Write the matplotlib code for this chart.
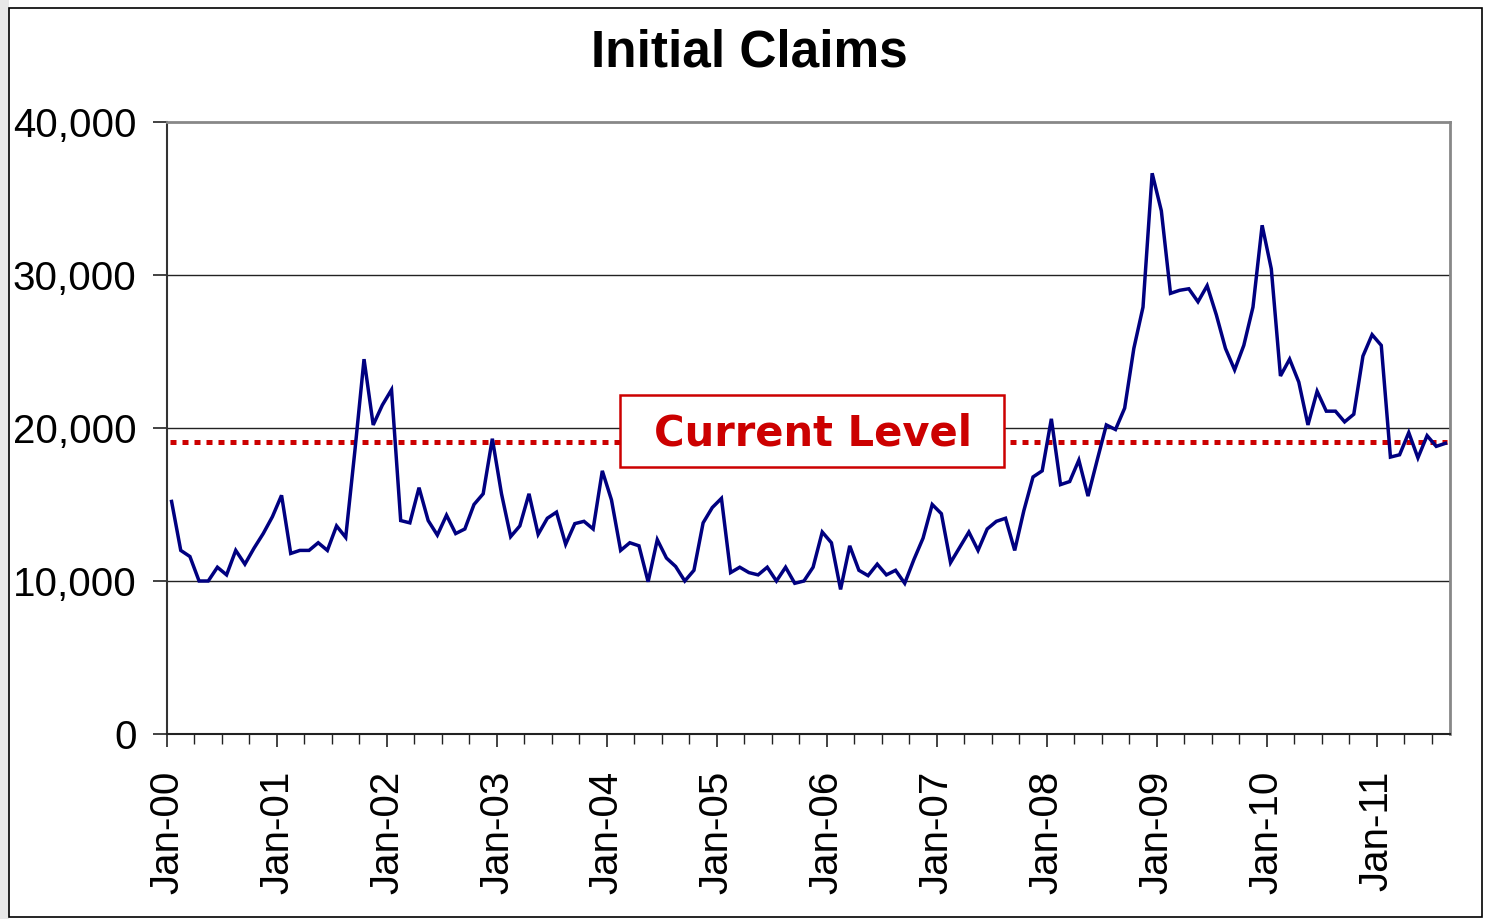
import matplotlib
matplotlib.use("Agg")
import matplotlib.pyplot as plt
from matplotlib.patches import Rectangle
from matplotlib.ticker import FuncFormatter, MultipleLocator

# Monthly initial claims, Jan-2000 .. Aug-2011 (thousands)
claims_k = [
    15.2, 12.0, 11.6, 10.0, 10.0, 10.9, 10.4, 12.0, 11.1, 12.15, 13.1, 14.2,   # 2000
    15.6, 11.8, 12.0, 12.0, 12.5, 12.0, 13.6, 12.85, 18.5, 24.5, 20.2, 21.5,   # 2001
    22.5, 13.95, 13.8, 16.1, 13.95, 13.0, 14.3, 13.1, 13.4, 15.0, 15.7, 19.3,  # 2002
    15.7, 12.9, 13.6, 15.7, 13.05, 14.1, 14.5, 12.4, 13.75, 13.9, 13.4, 17.2,  # 2003
    15.3, 12.0, 12.5, 12.3, 9.95, 12.7, 11.5, 10.95, 10.0, 10.7, 13.8, 14.8,   # 2004
    15.4, 10.55, 10.9, 10.55, 10.4, 10.9, 10.0, 10.9, 9.85, 10.0, 10.9, 13.2,  # 2005
    12.5, 9.45, 12.3, 10.7, 10.35, 11.1, 10.4, 10.7, 9.85, 11.4, 12.8, 15.0,   # 2006
    14.4, 11.2, 12.2, 13.2, 12.0, 13.4, 13.9, 14.1, 12.0, 14.6, 16.8, 17.2,    # 2007
    20.6, 16.3, 16.5, 17.9, 15.55, 17.9, 20.2, 19.9, 21.3, 25.2, 27.9, 36.65,  # 2008
    34.2, 28.8, 29.0, 29.1, 28.25, 29.3, 27.4, 25.2, 23.8, 25.4, 27.9, 33.25,  # 2009
    30.4, 23.4, 24.5, 23.0, 20.2, 22.4, 21.1, 21.1, 20.4, 20.9, 24.7, 26.1,    # 2010
    25.4, 18.1, 18.25, 19.7, 18.05, 19.5, 18.8, 19.0,                          # 2011
]
claims = [v * 1000 for v in claims_k]
current_level = 19100
year_labels = ["Jan-00", "Jan-01", "Jan-02", "Jan-03", "Jan-04", "Jan-05",
               "Jan-06", "Jan-07", "Jan-08", "Jan-09", "Jan-10", "Jan-11"]
title = "Initial Claims"
annotation = "Current Level"

n_months = len(claims)
x = [i + 0.5 for i in range(n_months)]

W, H = 1485, 919
fig = plt.figure(figsize=(W / 100, H / 100), dpi=100)
fig.patch.set_facecolor("white")

# outer light strip and chart frame
fig.add_artist(Rectangle((0, 0), 9 / W, 1, transform=fig.transFigure,
                         facecolor="#e8e8e8", edgecolor="none", zorder=0))
fig.add_artist(Rectangle((9 / W, 2 / H), (1482 - 9) / W, (917 - 8) / H,
                         transform=fig.transFigure, facecolor="none",
                         edgecolor="black", lw=1.2, zorder=5))

ax = fig.add_axes([167 / W, 1 - 734 / H, (1450 - 167) / W, (734 - 122) / H])
ax.set_facecolor("white")

ax.set_xlim(0, n_months)
ax.set_ylim(0, 40000)

for gy in (10000, 20000, 30000):
    ax.axhline(gy, color="#222222", lw=1.0, zorder=1)

ax.plot([0.3, n_months - 0.3], [current_level, current_level], color="#cc0000",
        lw=3.6, dashes=(1.2, 1.2), dash_capstyle="butt", zorder=2)

ax.plot(x, claims, color="#000080", lw=2.5, zorder=4, solid_joinstyle="miter")

ax.add_patch(Rectangle((0.3531, 0.4363), 0.2993, 0.1176, transform=ax.transAxes,
                       facecolor="white", edgecolor="#cc0000", lw=1.8, zorder=3))
ax.text(0.5035, 0.4905, annotation, transform=ax.transAxes, ha="center",
        va="center", color="#cc0000", fontsize=30, fontweight="bold",
        family="DejaVu Sans", zorder=5)

ax.xaxis.set_major_locator(MultipleLocator(12))
ax.xaxis.set_minor_locator(MultipleLocator(3))
ax.set_xticks([12 * i for i in range(len(year_labels))])
ax.set_xticklabels(year_labels, rotation=90, fontsize=29, family="Liberation Sans")
ax.tick_params(axis="x", which="major", length=9.5, width=1.2, pad=17, color="#222222")
ax.tick_params(axis="x", which="minor", length=7.5, width=1.0, color="#222222")

ax.yaxis.set_major_locator(MultipleLocator(10000))
ax.yaxis.set_major_formatter(FuncFormatter(lambda v, p: f"{int(v):,}"))
ax.tick_params(axis="y", which="major", length=10, width=1.2, pad=12,
               labelsize=29, color="#222222")
plt.setp(ax.get_yticklabels(), family="Liberation Sans")

for side in ("top", "right"):
    ax.spines[side].set_color("#888888")
    ax.spines[side].set_linewidth(2.0)
ax.spines["left"].set_color("#333333")
ax.spines["left"].set_linewidth(1.5)
ax.spines["bottom"].set_color("#222222")
ax.spines["bottom"].set_linewidth(1.5)

fig.text(749 / W, 1 - 53 / H, title, ha="center", va="center", fontsize=37,
         fontweight="bold", family="Liberation Sans")

fig.savefig("out.png", dpi=100)
